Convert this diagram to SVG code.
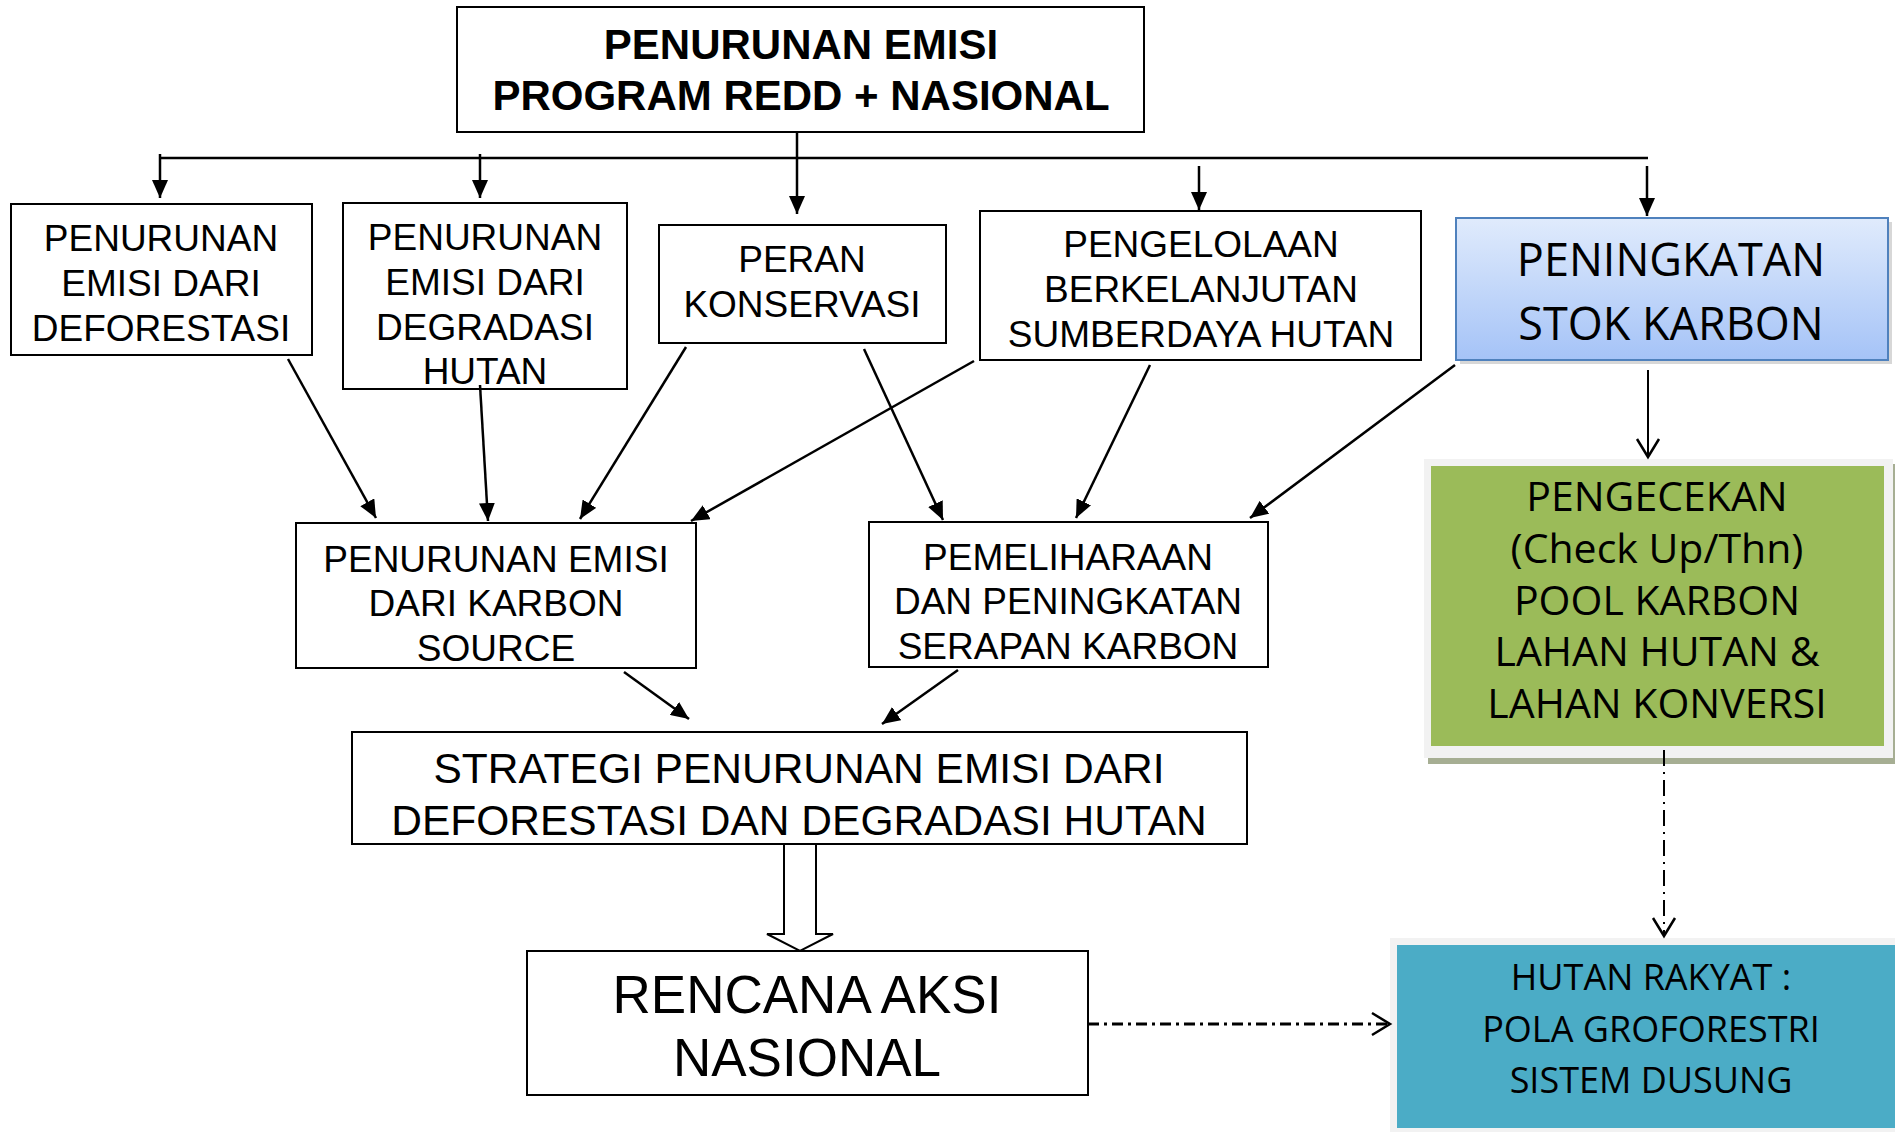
<svg xmlns="http://www.w3.org/2000/svg" width="1895" height="1132" viewBox="0 0 1895 1132">
<style>
.box{fill:#fff;stroke:#000;stroke-width:2}
.t{font-family:"Liberation Sans",Arial,sans-serif;font-size:37px;fill:#000;text-anchor:middle}
.tb{font-family:"Liberation Sans",Arial,sans-serif;font-size:42px;font-weight:bold;fill:#000;text-anchor:middle}
.o{font-family:"Open Sans","DejaVu Sans",sans-serif;fill:#000;text-anchor:middle}
.c{stroke:#000;stroke-width:2.5;fill:none}
.ca{stroke:#000;stroke-width:2.5;fill:none;marker-end:url(#ah)}
</style>
<defs>
<marker id="ah" markerUnits="userSpaceOnUse" markerWidth="20" markerHeight="16" refX="18" refY="8" orient="auto">
<path d="M0,0 L18,8 L0,16 Z" fill="#000"/>
</marker>
<marker id="ov" markerUnits="userSpaceOnUse" markerWidth="22" markerHeight="26" refX="19" refY="13" orient="auto">
<path d="M1,2 L19,13 L1,24" fill="none" stroke="#000" stroke-width="2.5"/>
</marker>
<linearGradient id="blue" x1="0" y1="0" x2="0" y2="1">
<stop offset="0" stop-color="#e0ebfc"/>
<stop offset="1" stop-color="#a5c3f7"/>
</linearGradient>
</defs>

<g id="n-top">
<rect class="box" x="457" y="7" width="687" height="125"/>
<text class="tb" x="801" y="59">PENURUNAN EMISI</text>
<text class="tb" x="801" y="110">PROGRAM REDD + NASIONAL</text>
</g>

<g id="n-deforestasi">
<rect class="box" x="11" y="204" width="301" height="151"/>
<text class="t" x="161" y="251">PENURUNAN</text>
<text class="t" x="161" y="296">EMISI DARI</text>
<text class="t" x="161" y="341">DEFORESTASI</text>
</g>

<g id="n-degradasi">
<rect class="box" x="343" y="203" width="284" height="186"/>
<text class="t" x="485" y="250">PENURUNAN</text>
<text class="t" x="485" y="295">EMISI DARI</text>
<text class="t" x="485" y="340">DEGRADASI</text>
<text class="t" x="485" y="384">HUTAN</text>
</g>

<g id="n-konservasi">
<rect class="box" x="659" y="225" width="287" height="118"/>
<text class="t" x="802" y="272">PERAN</text>
<text class="t" x="802" y="317">KONSERVASI</text>
</g>

<g id="n-pengelolaan">
<rect class="box" x="980" y="211" width="441" height="149"/>
<text class="t" x="1201" y="257">PENGELOLAAN</text>
<text class="t" x="1201" y="302">BERKELANJUTAN</text>
<text class="t" x="1201" y="347">SUMBERDAYA HUTAN</text>
</g>

<g id="n-stok">
<rect x="1460" y="222" width="432" height="142" fill="#b0b0b0" opacity="0.5"/>
<rect x="1456" y="218" width="432" height="142" fill="url(#blue)" stroke="#4f81bd" stroke-width="2"/>
<text class="o" x="1671" y="276" style="font-size:45px">PENINGKATAN</text>
<text class="o" x="1671" y="340" style="font-size:45px">STOK KARBON</text>
</g>

<g id="n-pengecekan">
<rect x="1428" y="464" width="467" height="300" fill="#a6ae93"/>
<rect x="1424" y="459" width="469" height="299" fill="#f2f2f2"/>
<rect x="1431" y="466" width="453" height="280" fill="#9bbb59"/>
<text class="o" x="1657" y="511" style="font-size:41px">PENGECEKAN</text>
<text class="o" x="1657" y="563" style="font-size:41px">(Check Up/Thn)</text>
<text class="o" x="1657" y="615" style="font-size:41px">POOL KARBON</text>
<text class="o" x="1657" y="666" style="font-size:41px">LAHAN HUTAN &amp;</text>
<text class="o" x="1657" y="718" style="font-size:41px">LAHAN KONVERSI</text>
</g>

<g id="n-hutanrakyat">
<rect x="1390" y="938" width="505" height="194" fill="#f2f2f2"/>
<rect x="1397" y="945" width="498" height="183" fill="#4bacc6"/>
<text class="o" x="1651" y="990" style="font-size:36px">HUTAN RAKYAT :</text>
<text class="o" x="1651" y="1042" style="font-size:36px">POLA GROFORESTRI</text>
<text class="o" x="1651" y="1093" style="font-size:36px">SISTEM DUSUNG</text>
</g>

<g id="n-source">
<rect class="box" x="296" y="523" width="400" height="145"/>
<text class="t" x="496" y="572">PENURUNAN EMISI</text>
<text class="t" x="496" y="616">DARI KARBON</text>
<text class="t" x="496" y="661">SOURCE</text>
</g>

<g id="n-serapan">
<rect class="box" x="869" y="522" width="399" height="145"/>
<text class="t" x="1068" y="570">PEMELIHARAAN</text>
<text class="t" x="1068" y="614">DAN PENINGKATAN</text>
<text class="t" x="1068" y="659">SERAPAN KARBON</text>
</g>

<g id="n-strategi">
<rect class="box" x="352" y="732" width="895" height="112"/>
<text class="t" x="799" y="783" style="font-size:42.5px">STRATEGI PENURUNAN EMISI DARI</text>
<text class="t" x="799" y="835" style="font-size:42.5px">DEFORESTASI DAN DEGRADASI HUTAN</text>
</g>

<g id="n-rencana">
<rect class="box" x="527" y="951" width="561" height="144"/>
<text class="t" x="807" y="1013" style="font-size:53px">RENCANA AKSI</text>
<text class="t" x="807" y="1076" style="font-size:53px">NASIONAL</text>
</g>

<g id="connectors">
<line class="c" x1="160" y1="158" x2="1648" y2="158"/>
<line class="ca" x1="160" y1="154" x2="160" y2="198"/>
<line class="ca" x1="480" y1="154" x2="480" y2="198"/>
<line class="ca" x1="797" y1="133" x2="797" y2="214"/>
<line class="ca" x1="1199" y1="166" x2="1199" y2="210"/>
<line class="ca" x1="1647" y1="166" x2="1647" y2="216"/>
<line class="ca" x1="288" y1="359" x2="376" y2="518"/>
<line class="ca" x1="480" y1="385" x2="488" y2="521"/>
<line class="ca" x1="686" y1="347" x2="580" y2="519"/>
<line class="ca" x1="974" y1="361" x2="691" y2="521"/>
<line class="ca" x1="864" y1="349" x2="943" y2="520"/>
<line class="ca" x1="1150" y1="365" x2="1076" y2="518"/>
<line class="ca" x1="1455" y1="365" x2="1250" y2="518"/>
<line class="ca" x1="624" y1="672" x2="689" y2="719"/>
<line class="ca" x1="958" y1="670" x2="882" y2="724"/>
<line x1="1648" y1="370" x2="1648" y2="457" stroke="#000" stroke-width="2" marker-end="url(#ov)"/>
<line x1="1664" y1="750" x2="1664" y2="936" stroke="#000" stroke-width="2" stroke-dasharray="16 6 2 6" marker-end="url(#ov)"/>
<line x1="1088" y1="1024" x2="1390" y2="1024" stroke="#000" stroke-width="3" stroke-dasharray="11 5 3 5" marker-end="url(#ov)"/>
<polygon points="784,844 816,844 816,934 833,934 800,951 767,934 784,934" fill="#fff" stroke="#000" stroke-width="2"/>
</g>
</svg>
